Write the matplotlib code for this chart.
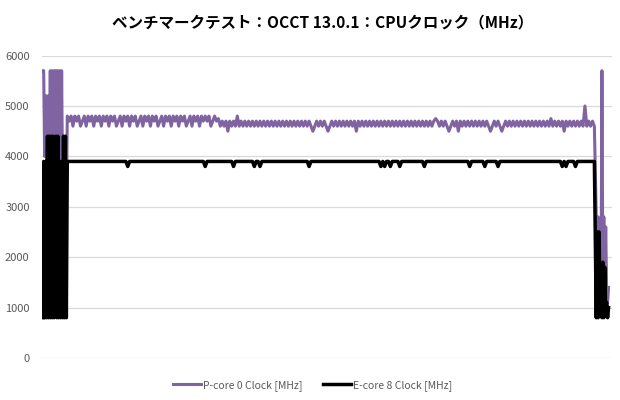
import matplotlib.pyplot as plt
import numpy as np

plt.rcParams['font.family'] = ['Noto Sans CJK JP', 'DejaVu Sans']

TITLE = 'ベンチマークテスト：OCCT 13.0.1：CPUクロック（MHz）'
LABEL_P = 'P-core 0 Clock [MHz]'
LABEL_E = 'E-core 8 Clock [MHz]'
Y_TICKS = [0, 1000, 2000, 3000, 4000, 5000, 6000]

# start / end of the run are logged at twice the rate (half-step samples)
# P-core 0 clock, read off the picture (MHz)
p_start = [5700, 5700, 4000, 5200, 5200, 3000, 5200, 3500, 5700, 2500, 5700, 3000, 5700,
           2000, 5700, 1600, 5700, 3000, 5700, 2500, 5700, 3500, 4400, 2000, 4400, 3000]
p_early = [
    4800, 4700, 4800, 4600, 4800, 4700, 4800, 4600, 4700, 4800, 4600, 4800, 4700, 4800, 4600, 4800, 4700, 4800, 4600, 4800,
    4700, 4800, 4600, 4800, 4700, 4800, 4600, 4700, 4800, 4600, 4800, 4700, 4800, 4600, 4800, 4700, 4800, 4600, 4700, 4800,
    4600, 4800, 4700, 4800, 4600, 4800, 4700, 4800, 4600, 4700, 4800, 4600, 4800, 4700, 4800, 4600, 4800, 4700, 4800, 4600,
    4800, 4700, 4800, 4600, 4700, 4800, 4600, 4800, 4700, 4800, 4600, 4800, 4700, 4800, 4700, 4800, 4600, 4700, 4800, 4700,
    4750, 4600, 4700, 4600, 4700, 4500, 4700, 4600, 4700, 4600, 4800, 4600, 4700, 4600,
]
p_late = [
    4700, 4600, 4700, 4600, 4700, 4600, 4700, 4600, 4700, 4600, 4700, 4600, 4700, 4600, 4700, 4600, 4700, 4600, 4700, 4600,
    4700, 4600, 4700, 4600, 4700, 4600, 4700, 4600, 4700, 4600, 4700, 4600, 4700, 4600, 4700, 4600, 4500, 4600, 4700, 4600,
    4700, 4600, 4700, 4600, 4500, 4600, 4700, 4600, 4700, 4600, 4700, 4600, 4700, 4600, 4700, 4600, 4700, 4600, 4700, 4500,
    4700, 4600, 4700, 4600, 4700, 4600, 4700, 4600, 4700, 4600, 4700, 4600, 4700, 4600, 4700, 4600, 4700, 4600, 4700, 4600,
    4700, 4600, 4700, 4600, 4700, 4600, 4700, 4600, 4700, 4600, 4700, 4600, 4700, 4600, 4700, 4600, 4700, 4600, 4700, 4600,
    4700, 4750, 4700, 4600, 4700, 4600, 4700, 4600, 4500, 4600, 4700, 4600, 4700, 4500, 4700, 4600, 4700, 4600, 4700, 4600,
    4700, 4600, 4700, 4600, 4700, 4600, 4700, 4600, 4700, 4600, 4500, 4600, 4700, 4600, 4700, 4600, 4500, 4600, 4700, 4600,
    4700, 4600, 4700, 4600, 4700, 4600, 4700, 4600, 4700, 4600, 4700, 4600, 4700, 4600, 4700, 4600, 4700, 4600, 4700, 4600,
    4700, 4600, 4750, 4600, 4700, 4600, 4700, 4600, 4700, 4500, 4700, 4600, 4700, 4600, 4700, 4600, 4700, 4600, 4700, 4600,
    5000, 4600, 4700, 4600, 4700, 4600,
]
p_end = [2800, 1200, 2800, 1000, 2000, 1000, 5700, 1500, 2800, 1200, 2600, 1300, 1100, 1400]

# E-core 8 clock (MHz): steady 3900 with short dips
e_start = [800, 3900, 800, 3900, 800, 4400, 800, 4400, 800, 4400, 800, 4400, 800,
           3900, 4400, 800, 4400, 800, 3900, 800, 3900, 800, 4400, 800, 4400, 800]
e_plateau = [
    3900, 3900, 3900, 3900, 3900, 3900, 3900, 3900, 3900, 3900, 3900, 3900, 3900, 3900, 3900, 3900, 3900, 3900, 3900, 3900,
    3900, 3900, 3900, 3900, 3900, 3900, 3900, 3900, 3900, 3900, 3900, 3900, 3800, 3900, 3900, 3900, 3900, 3900, 3900, 3900,
    3900, 3900, 3900, 3900, 3900, 3900, 3900, 3900, 3900, 3900, 3900, 3900, 3900, 3900, 3900, 3900, 3900, 3900, 3900, 3900,
    3900, 3900, 3900, 3900, 3900, 3900, 3900, 3900, 3900, 3900, 3900, 3900, 3900, 3800, 3900, 3900, 3900, 3900, 3900, 3900,
    3900, 3900, 3900, 3900, 3900, 3900, 3900, 3900, 3800, 3900, 3900, 3900, 3900, 3900, 3900, 3900, 3900, 3900, 3900, 3800,
    3900, 3900, 3800, 3900, 3900, 3900, 3900, 3900, 3900, 3900, 3900, 3900, 3900, 3900, 3900, 3900, 3900, 3900, 3900, 3900,
    3900, 3900, 3900, 3900, 3900, 3900, 3900, 3900, 3800, 3900, 3900, 3900, 3900, 3900, 3900, 3900, 3900, 3900, 3900, 3900,
    3900, 3900, 3900, 3900, 3900, 3900, 3900, 3900, 3900, 3900, 3900, 3900, 3900, 3900, 3900, 3900, 3900, 3900, 3900, 3900,
    3900, 3900, 3900, 3900, 3900, 3900, 3800, 3900, 3800, 3900, 3900, 3800, 3900, 3900, 3900, 3900, 3800, 3900, 3900, 3900,
    3900, 3900, 3900, 3900, 3900, 3900, 3900, 3900, 3900, 3800, 3900, 3900, 3900, 3900, 3900, 3900, 3900, 3900, 3900, 3900,
    3900, 3900, 3900, 3900, 3900, 3900, 3900, 3900, 3900, 3900, 3900, 3900, 3900, 3800, 3900, 3900, 3900, 3900, 3900, 3900,
    3900, 3800, 3900, 3900, 3900, 3900, 3900, 3900, 3800, 3900, 3900, 3900, 3900, 3900, 3900, 3900, 3900, 3900, 3900, 3900,
    3900, 3900, 3900, 3900, 3900, 3900, 3900, 3900, 3900, 3900, 3900, 3900, 3900, 3900, 3900, 3900, 3900, 3900, 3900, 3900,
    3900, 3900, 3800, 3900, 3800, 3900, 3900, 3900, 3900, 3800, 3900, 3900, 3900, 3900, 3900, 3900, 3900, 3900, 3900, 3900,
]
e_end = [800, 2500, 800, 2500, 900, 1500, 800, 1900, 800, 1800, 900, 1100, 800, 1000]

p_core = np.array(p_start + p_early + p_late + p_end)
e_core = np.array(e_start + e_plateau + e_end)

# sample times: fast logging at start/end, one step per sample on the plateau
n_start = len(e_start)
n_mid = len(e_plateau)
n_end = len(e_end)
t_start = np.arange(n_start) * 0.5
t_mid = t_start[-1] + 0.5 + np.arange(n_mid)
t_end = t_mid[-1] + 1 + np.arange(n_end) * 0.5
t = np.concatenate([t_start, t_mid, t_end])

fig = plt.figure(figsize=(6.2, 4.0), dpi=100)
ax = fig.add_axes([0.068, 0.105, 0.919, 0.756])

ax.plot(t, p_core, color='#8064A2', linewidth=2.2, label=LABEL_P, zorder=2)
ax.plot(t, e_core, color='black', linewidth=2.5, label=LABEL_E, zorder=3)

ax.set_ylim(0, 6000)
ax.set_xlim(-0.3, t[-1] + 1.8)
ax.set_yticks(Y_TICKS)
ax.set_yticklabels([str(v) for v in Y_TICKS], color='#595959', fontsize=8)
ax.set_xticks([])
ax.tick_params(axis='y', length=0, pad=9)
ax.grid(axis='y', color='#D9D9D9', linewidth=0.9, zorder=0)
ax.set_axisbelow(True)
for s in ax.spines.values():
    s.set_visible(False)

fig.suptitle(TITLE, x=0.52, y=0.965, fontsize=11.2, fontweight='bold', color='black')

leg = fig.legend(loc='lower center', bbox_to_anchor=(0.504, 0.0), ncol=2, frameon=False,
                 fontsize=7.5, handlelength=2.7, handletextpad=0.15, columnspacing=2.0)
for t_ in leg.get_texts():
    t_.set_color('#595959')

fig.savefig('out.png', dpi=100)
